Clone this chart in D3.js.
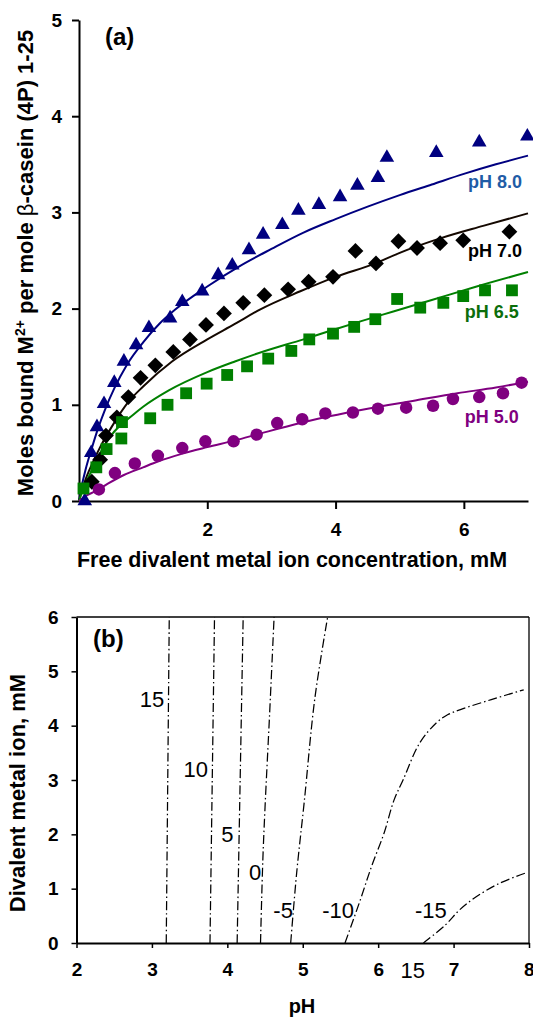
<!DOCTYPE html>
<html><head><meta charset="utf-8">
<script src="https://cdn.jsdelivr.net/npm/d3@7"></script>
<style>
body{margin:0;background:#fff}
text{font-family:"Liberation Sans",Arial,sans-serif}
</style>
</head><body>
<svg id="c" width="533" height="1020"></svg>
<script>
// ---------- Panel (a) data: measured points [free metal mM, moles bound] ----------
const ph80 = [[0.09,0.0],[0.19,0.50],[0.28,0.77],[0.39,1.01],[0.55,1.23],[0.70,1.45],[0.89,1.62],[1.09,1.80],[1.42,1.90],[1.61,2.07],[1.92,2.18],[2.17,2.35],[2.39,2.45],[2.65,2.61],[2.87,2.77],[3.17,2.87],[3.42,3.02],[3.74,3.08],[4.07,3.16],[4.34,3.28],[4.66,3.36],[4.80,3.57],[5.57,3.62],[6.24,3.73],[6.99,3.79]];
const ph70 = [[0.20,0.20],[0.33,0.43],[0.42,0.68],[0.59,0.87],[0.77,1.08],[0.96,1.28],[1.19,1.41],[1.47,1.55],[1.73,1.68],[1.98,1.83],[2.26,1.95],[2.56,2.06],[2.89,2.14],[3.26,2.20],[3.58,2.28],[3.96,2.33],[4.31,2.60],[4.63,2.47],[4.98,2.70],[5.27,2.63],[5.63,2.68],[5.99,2.71],[6.71,2.80]];
const ph65 = [[0.07,0.13],[0.27,0.35],[0.43,0.54],[0.66,0.65],[0.67,0.82],[1.11,0.86],[1.38,1.00],[1.67,1.12],[1.99,1.22],[2.31,1.31],[2.62,1.40],[2.95,1.48],[3.31,1.56],[3.59,1.68],[3.96,1.74],[4.29,1.81],[4.62,1.89],[4.96,2.10],[5.32,2.01],[5.68,2.06],[5.99,2.13],[6.33,2.19],[6.75,2.19]];
const ph50 = [[0.31,0.12],[0.56,0.29],[0.87,0.39],[1.23,0.47],[1.61,0.55],[1.97,0.62],[2.41,0.62],[2.77,0.69],[3.09,0.81],[3.48,0.85],[3.84,0.91],[4.27,0.92],[4.66,0.96],[5.10,0.97],[5.52,0.99],[5.83,1.06],[6.24,1.08],[6.61,1.12],[6.90,1.23]];
// fitted curves
const fit80 = [[0,0],[0.05,0.18],[0.1,0.32],[0.2,0.55],[0.3,0.76],[0.4,0.94],[0.55,1.17],[0.75,1.42],[1.0,1.65],[1.25,1.84],[1.5,1.99],[2.0,2.23],[2.5,2.44],[3.0,2.62],[3.5,2.79],[4.0,2.93],[4.5,3.06],[5.0,3.18],[5.5,3.29],[6.0,3.40],[6.5,3.50],[7.0,3.59]];
const fit70 = [[0,0],[0.05,0.12],[0.1,0.22],[0.2,0.38],[0.33,0.56],[0.5,0.76],[0.77,1.03],[1.0,1.19],[1.45,1.45],[2.0,1.68],[2.43,1.84],[2.82,1.99],[3.45,2.18],[4.0,2.33],[4.62,2.47],[5.0,2.58],[5.63,2.73],[6.3,2.86],[7.0,2.99]];
const fit65 = [[0,0],[0.05,0.10],[0.1,0.18],[0.2,0.32],[0.33,0.50],[0.5,0.68],[0.85,0.90],[1.0,0.98],[1.4,1.15],[2.0,1.34],[2.43,1.45],[2.9,1.56],[3.5,1.68],[3.87,1.76],[4.4,1.87],[4.9,1.97],[5.5,2.09],[6.2,2.23],[7.0,2.38]];
const fit50 = [[0,0],[0.1,0.05],[0.25,0.10],[0.45,0.18],[0.7,0.27],[1.0,0.35],[1.23,0.41],[1.6,0.49],[2.0,0.56],[2.43,0.63],[2.82,0.70],[3.45,0.81],[3.9,0.88],[4.5,0.96],[5.2,1.04],[5.9,1.12],[6.5,1.18],[7.0,1.24]];
const seriesNames = ["pH 8.0","pH 7.0","pH 6.5","pH 5.0"];
const xTicksA = [2,4,6];
const yTicksA = [0,1,2,3,4,5];

// ---------- Panel (b) data: contour lines [pH, divalent metal ion mM] ----------
const c15  = [[3.19,0],[3.21,3],[3.23,6]];
const c10  = [[3.77,0],[3.80,3],[3.83,6]];
const c5   = [[4.13,0],[4.17,3],[4.21,6]];
const c0   = [[4.44,0],[4.47,1.5],[4.50,2.5],[4.56,4.2],[4.62,6]];
const cm5  = [[4.84,0],[4.92,1.3],[5.02,2.6],[5.16,4.5],[5.33,6]];
const cm10 = [[5.56,0],[5.75,0.74],[5.91,1.40],[6.08,2.03],[6.21,2.63],[6.33,3.0],[6.55,3.68],[6.77,4.05],[6.92,4.2],[7.1,4.3],[7.5,4.48],[7.93,4.66]];
const cm15 = [[6.6,0],[6.89,0.33],[7.08,0.61],[7.3,0.85],[7.61,1.1],[7.96,1.29]];
const contourLabels = [["15",3.0,4.5],["10",3.58,3.2],["5",4.0,2.0],["0",4.37,1.3],["-5",4.74,0.6],["-10",5.47,0.6],["-15",6.70,0.6],["15",6.46,-0.5]];
const xTicksB = [2,3,4,5,6,7,8];
const yTicksB = [0,1,2,3,4,5,6];

const svg = d3.select("#c");
const F = '"Liberation Sans",Arial,sans-serif';

// ================= Panel (a) =================
const xA = d3.scaleLinear([0,7],[79,528]);
const yA = d3.scaleLinear([0,5],[501,20]);
const gA = svg.append("g");

const ax = gA.append("g").attr("transform",`translate(0,${yA(0)})`)
  .call(d3.axisBottom(xA).tickValues(xTicksA).tickSize(8).tickSizeOuter(0).tickPadding(14).tickFormat(d3.format("d")));
const ay = gA.append("g").attr("transform",`translate(${xA(0)},0)`)
  .call(d3.axisLeft(yA).tickValues(yTicksA).tickSize(7).tickSizeOuter(0).tickPadding(10).tickFormat(d3.format("d")));
[ax,ay].forEach(a=>{
  a.select(".domain").attr("stroke","#000").attr("stroke-width",2);
  a.selectAll(".tick line").attr("stroke","#000").attr("stroke-width",2);
  a.selectAll(".tick text").attr("font-family",F).attr("font-size",19).attr("font-weight","bold").attr("fill","#000");
});

const curveCols = ["#000080","#140800","#008000","#800080"];
const markCols  = ["#000080","#000000","#008000","#800080"];
const labCols   = ["#1f5ca6","#000000","#0b6e0b","#800080"];
const fits = [fit80,fit70,fit65,fit50];
const pts  = [ph80,ph70,ph65,ph50];
const line = d3.line().x(d=>xA(d[0])).y(d=>yA(d[1])).curve(d3.curveMonotoneX);
fits.forEach((f,i)=>{
  gA.append("path").datum(f).attr("d",line).attr("fill","none").attr("stroke",curveCols[i]).attr("stroke-width",2);
});
const syms = [d3.symbol().type(d3.symbolTriangle).size(92),
              d3.symbol().type(d3.symbolSquare).size(125),
              d3.symbol().type(d3.symbolSquare).size(140),
              d3.symbol().type(d3.symbolCircle).size(122)];
pts.forEach((p,i)=>{
  gA.append("g").selectAll("path").data(p).join("path")
    .attr("d",syms[i]())
    .attr("transform",d=>`translate(${xA(d[0])},${yA(d[1])})${i===1?" rotate(45)":""}`)
    .attr("fill",markCols[i]);
});
const labPos = [[7.0,3.25],[7.0,2.54],[6.95,1.90],[6.95,0.81]];
seriesNames.forEach((s,i)=>{
  gA.append("text").attr("x",xA(labPos[i][0])-6).attr("y",yA(labPos[i][1]))
    .attr("text-anchor","end").attr("font-size",18).attr("font-weight","bold")
    .attr("fill",labCols[i]).text(s);
});
gA.append("text").attr("x",105).attr("y",45).attr("font-size",24).attr("font-weight","bold").text("(a)");
gA.append("text").attr("x",292).attr("y",567).attr("text-anchor","middle").attr("font-size",21.5).attr("font-weight","bold")
  .text("Free divalent metal ion concentration, mM");
const yt = gA.append("text").attr("transform","translate(33,263) rotate(-90)").attr("text-anchor","middle")
  .attr("font-size",22).attr("font-weight","bold");
yt.append("tspan").text("Moles bound M");
yt.append("tspan").attr("font-size",14).attr("dy",-8).text("2+");
yt.append("tspan").attr("dy",8).text(" per mole ");
yt.append("tspan").attr("font-weight","normal").text("β");
yt.append("tspan").text("-casein (4P) 1-25");

// ================= Panel (b) =================
const xB = d3.scaleLinear([2,8],[76.5,529]);
const yB = d3.scaleLinear([0,6],[943,617]);
const gB = svg.append("g");
gB.append("line").attr("x1",xB(2)).attr("x2",xB(8)).attr("y1",yB(6)).attr("y2",yB(6)).attr("stroke","#000").attr("stroke-width",1.3);
gB.append("line").attr("x1",xB(8)).attr("x2",xB(8)).attr("y1",yB(0)).attr("y2",yB(6)).attr("stroke","#000").attr("stroke-width",1.3);
const bx = gB.append("g").attr("transform",`translate(0,${yB(0)})`)
  .call(d3.axisBottom(xB).tickValues(xTicksB).tickSize(5).tickSizeOuter(0).tickPadding(15).tickFormat(d3.format("d")));
const by = gB.append("g").attr("transform",`translate(${xB(2)},0)`)
  .call(d3.axisLeft(yB).tickValues(yTicksB).tickSize(5).tickSizeOuter(0).tickPadding(13).tickFormat(d3.format("d")));
[bx,by].forEach(a=>{
  a.select(".domain").attr("stroke","#000").attr("stroke-width",2);
  a.selectAll(".tick line").attr("stroke","#000").attr("stroke-width",1.5);
  a.selectAll(".tick text").attr("font-family",F).attr("font-size",19).attr("font-weight","bold").attr("fill","#000");
});
// keep the last x label inside the page edge
bx.selectAll(".tick text").filter(d=>d===8).attr("text-anchor","end").attr("dx",5);
const cline = d3.line().x(d=>xB(d[0])).y(d=>yB(d[1])).curve(d3.curveCatmullRom);
[c15,c10,c5,c0,cm5,cm10,cm15].forEach(c=>{
  gB.append("path").datum(c).attr("d",cline).attr("fill","none").attr("stroke","#000")
    .attr("stroke-width",1.25).attr("stroke-dasharray","9,3,1.5,3");
});
contourLabels.forEach(l=>{
  gB.append("text").attr("x",xB(l[1])).attr("y",yB(l[2])+8).attr("text-anchor","middle")
    .attr("font-size",22).text(l[0]);
});
gB.append("text").attr("x",93).attr("y",647).attr("font-size",24).attr("font-weight","bold").text("(b)");
gB.append("text").attr("x",302).attr("y",1013).attr("text-anchor","middle").attr("font-size",20).attr("font-weight","bold").text("pH");
gB.append("text").attr("transform","translate(25,793) rotate(-90)").attr("text-anchor","middle")
  .attr("font-size",22).attr("font-weight","bold").text("Divalent metal ion, mM");
</script>
</body></html>
